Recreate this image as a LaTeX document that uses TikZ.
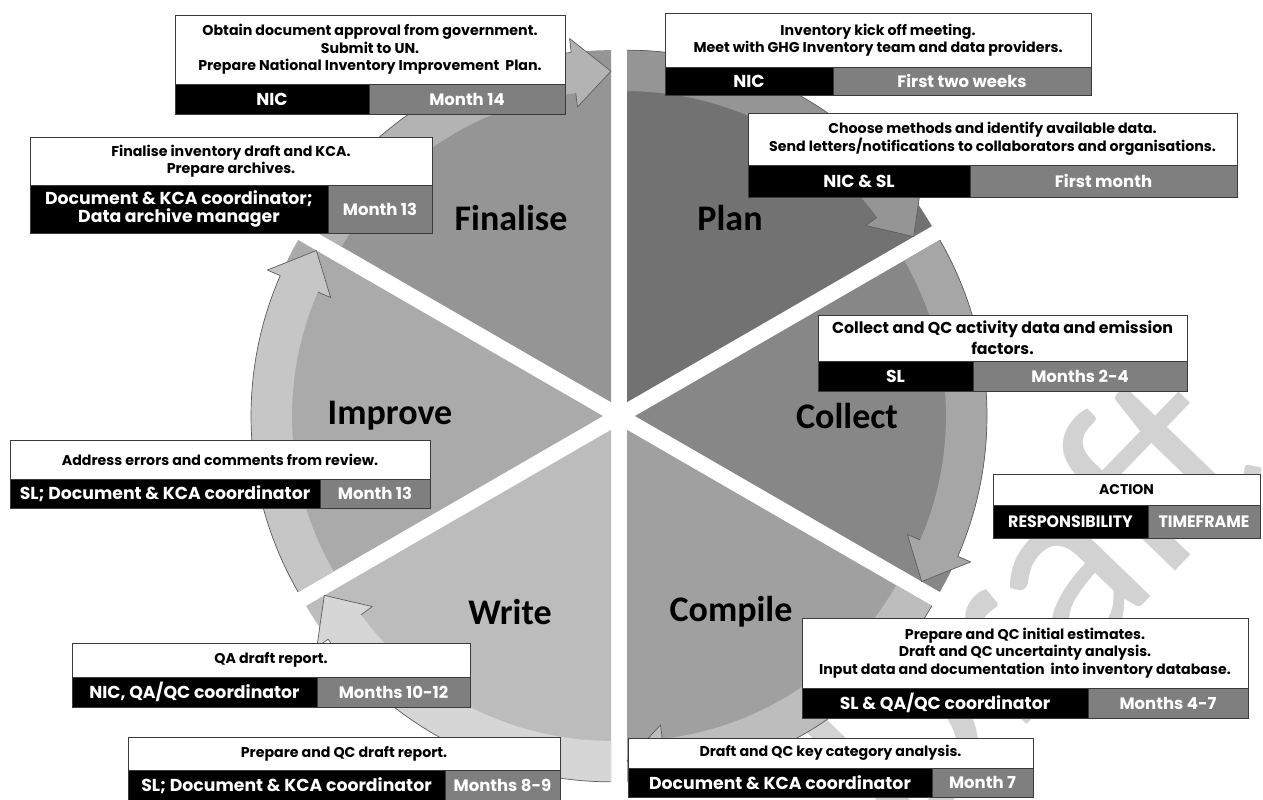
\documentclass[tikz,border=0pt]{standalone}
\usepackage{fontspec}
\setmainfont{Poppins}
\newfontfamily\phasefamily{Carlito}
\definecolor{cellgrey}{HTML}{7F7F7F}
\definecolor{cellline}{HTML}{3A3A3A}
\definecolor{markgrey}{HTML}{D2D2D2}
\definecolor{edgegrey}{HTML}{5E5E5E}
\definecolor{planfill}{HTML}{727272}
\definecolor{planrim}{HTML}{959595}
\definecolor{collectfill}{HTML}{878787}
\definecolor{collectrim}{HTML}{A6A6A6}
\definecolor{compilefill}{HTML}{A0A0A0}
\definecolor{compilerim}{HTML}{BDBDBD}
\definecolor{writefill}{HTML}{BCBCBC}
\definecolor{writerim}{HTML}{D6D6D6}
\definecolor{improvefill}{HTML}{AAAAAA}
\definecolor{improverim}{HTML}{C6C6C6}
\definecolor{finalfill}{HTML}{959595}
\definecolor{finalrim}{HTML}{B3B3B3}

\newcommand\actfont{\fontsize{14.2}{17.5}\selectfont\bfseries}
\newcommand\respfont{\fontsize{17.3}{17.5}\selectfont\bfseries}
\newcommand\timefont{\fontsize{16.5}{17}\selectfont\bfseries}
\newcommand\phasefont{\phasefamily\bfseries\fontsize{36}{36}\selectfont}

% one pie segment of the cycle: start angle (screen, clockwise), segment fill, rim-arrow fill
\newcommand\wheelpart[3]{%
  \pgfmathsetmacro\bis{#1+30}%
  \pgfmathsetmacro\ox{619+16*cos(\bis)}%
  \pgfmathsetmacro\oy{416+16*sin(\bis)}%
  \pgfmathsetmacro\ea{#1+60}%
  \pgfmathsetmacro\hb{#1+60-6.5}%
  \fill[#2] (\ox,\oy) -- plot[domain=#1:\ea,samples=40] ({\ox+352*cos(\x)},{\oy+352*sin(\x)}) -- cycle;
  \fill[#3] plot[domain=#1:\hb,samples=40] ({\ox+352*cos(\x)},{\oy+352*sin(\x)})
     -- ({\ox+366*cos(\hb)},{\oy+366*sin(\hb)})
     -- ({\ox+331*cos(\ea)},{\oy+331*sin(\ea)})
     -- ({\ox+297*cos(\hb)},{\oy+297*sin(\hb)})
     -- plot[domain=\hb:#1,samples=40] ({\ox+311*cos(\x)},{\oy+311*sin(\x)}) -- cycle;
  % darker outer contour of the rim arrow
  \draw[rimedge] plot[domain=#1:\hb,samples=40] ({\ox+352*cos(\x)},{\oy+352*sin(\x)})
     -- ({\ox+366*cos(\hb)},{\oy+366*sin(\hb)})
     -- ({\ox+331*cos(\ea)},{\oy+331*sin(\ea)})
     -- ({\ox+297*cos(\hb)},{\oy+297*sin(\hb)})
     -- ({\ox+311*cos(\hb)},{\oy+311*sin(\hb)});
}

\tikzset{
  rimedge/.style={draw=edgegrey, line width=0.7pt, line join=round},
  cellbase/.style={draw=cellline, line width=0.8pt, inner sep=0pt, outer sep=0pt, anchor=north west},
  actcell/.style={cellbase, fill=white, text=black, font=\actfont, align=center},
  respcell/.style={cellbase, fill=black, text=white, font=\respfont, align=center},
  timecell/.style={cellbase, fill=cellgrey, text=white, font=\timefont, align=center},
  phase/.style={font=\phasefont, text=black},
}

\begin{document}
\begin{tikzpicture}[x=1pt,y=-1pt]
\useasboundingbox (0,0) rectangle (1263,800);
\fill[white] (0,0) rectangle (1263,800);

% background watermark
\node[rotate=46, text=markgrey, font=\phasefamily\fontsize{260}{260}\selectfont] (draftmark) at (1025,600) {Draft};

% the six segments of the cycle
\wheelpart{270}{planfill}{planrim}
\wheelpart{330}{collectfill}{collectrim}
\wheelpart{30}{compilefill}{compilerim}
\wheelpart{90}{writefill}{writerim}
\wheelpart{150}{improvefill}{improverim}
\wheelpart{210}{finalfill}{finalrim}

\node[phase] (plan) at (730,218) {Plan};
\node[phase] (collect) at (847,416) {Collect};
\node[phase] (compile) at (731,612) {Compile};
\node[phase] (write) at (510,612) {Write};
\node[phase] (improve) at (390,416) {Improve};
\node[phase] (finalise) at (511,218) {Finalise};

% Finalise: government approval
\node[actcell, minimum width=390, minimum height=69] (fa) at (175,15)
  {Obtain document approval from government.\\Submit to UN.\\Prepare National Inventory Improvement\ \ Plan.};
\node[respcell, minimum width=194, minimum height=30] (fr) at (fa.south west) {NIC};
\node[timecell, minimum width=196, minimum height=30] (ft) at (fr.north east) {Month 14};

% Plan: kick off
\node[actcell, minimum width=426, minimum height=54] (pa) at (665,13)
  {Inventory kick off meeting.\\Meet with GHG Inventory team and data providers.};
\node[respcell, minimum width=168, minimum height=28] (pr) at (pa.south west) {NIC};
\node[timecell, minimum width=258, minimum height=28] (pt) at (pr.north east) {First two weeks};

% Plan: methods
\node[actcell, minimum width=489, minimum height=52] (qa) at (748,113)
  {Choose methods and identify available data.\\Send letters/notifications to collaborators and organisations.};
\node[respcell, minimum width=222, minimum height=32] (qr) at (qa.south west) {NIC \& SL};
\node[timecell, minimum width=267, minimum height=32] (qt) at (qr.north east) {First month};

% Finalise: draft and archives
\node[actcell, minimum width=402, minimum height=48] (ga) at (30,137)
  {Finalise inventory draft and KCA.\\Prepare archives.};
\node[respcell, minimum width=298, minimum height=48] (gr) at (ga.south west) {Document \& KCA coordinator;\\Data archive manager};
\node[timecell, minimum width=104, minimum height=48] (gt) at (gr.north east) {Month 13};

% Collect
\node[actcell, minimum width=369, minimum height=46, font=\fontsize{15.8}{21}\selectfont\bfseries] (ca) at (818,315)
  {Collect and QC activity data and emission\\factors.};
\node[respcell, minimum width=155, minimum height=30] (cr) at (ca.south west) {SL};
\node[timecell, minimum width=214, minimum height=30] (ct) at (cr.north east) {Months 2-4};

% key
\node[actcell, minimum width=267, minimum height=31, font=\fontsize{14}{14}\selectfont\bfseries] (ka) at (993,474) {ACTION};
\node[respcell, minimum width=155, minimum height=33, font=\fontsize{16.5}{18}\selectfont\bfseries] (kr) at (ka.south west) {\scalebox{0.96}[1]{RESPONSIBILITY}};
\node[timecell, minimum width=112, minimum height=33, font=\fontsize{16.5}{18}\selectfont\bfseries] (kt) at (kr.north east) {\scalebox{0.96}[1]{TIMEFRAME}};

% Improve
\node[actcell, minimum width=420, minimum height=39] (ia) at (10,440)
  {Address errors and comments from review.};
\node[respcell, minimum width=310, minimum height=29] (ir) at (ia.south west) {SL; Document \& KCA coordinator};
\node[timecell, minimum width=110, minimum height=29] (it) at (ir.north east) {Month 13};

% Compile: estimates
\node[actcell, minimum width=446, minimum height=70] (ma) at (802,618)
  {Prepare and QC initial estimates.\\Draft and QC uncertainty analysis.\\Input data and documentation\ \ into inventory database.};
\node[respcell, minimum width=286, minimum height=30] (mr) at (ma.south west) {SL \& QA/QC coordinator};
\node[timecell, minimum width=160, minimum height=30] (mt) at (mr.north east) {Months 4-7};

% Write: QA
\node[actcell, minimum width=398, minimum height=34] (wa) at (72,643)
  {QA draft report.};
\node[respcell, minimum width=245, minimum height=30] (wr) at (wa.south west) {NIC, QA/QC coordinator};
\node[timecell, minimum width=153, minimum height=30] (wt) at (wr.north east) {Months 10-12};

% Write: draft report
\node[actcell, minimum width=432, minimum height=33] (va) at (128,737)
  {Prepare and QC draft report.};
\node[respcell, minimum width=317, minimum height=31] (vr) at (va.south west) {SL; Document \& KCA coordinator};
\node[timecell, minimum width=115, minimum height=31] (vt) at (vr.north east) {Months 8-9};

% Compile: key categories
\node[actcell, minimum width=405, minimum height=30] (na) at (628,738)
  {Draft and QC key category analysis.};
\node[respcell, minimum width=304, minimum height=29] (nr) at (na.south west) {Document \& KCA coordinator};
\node[timecell, minimum width=101, minimum height=29] (nt) at (nr.north east) {Month 7};
\end{tikzpicture}
\end{document}
